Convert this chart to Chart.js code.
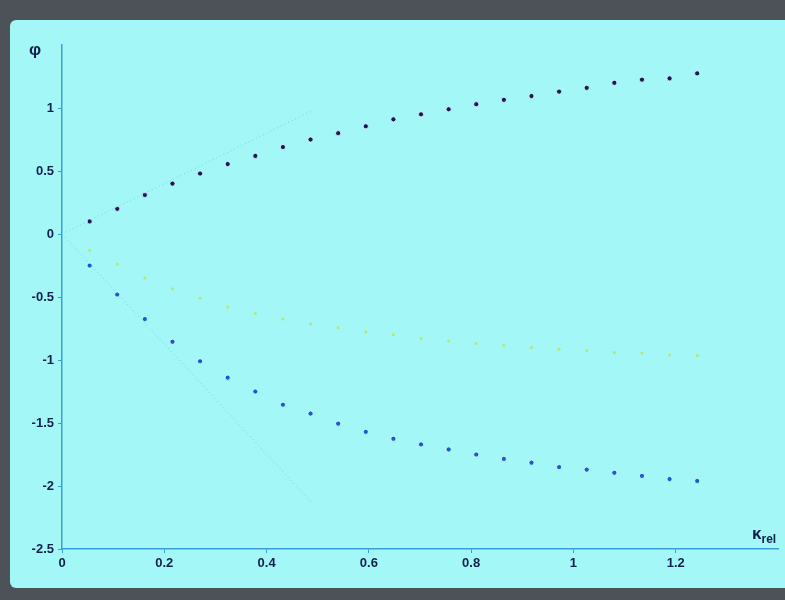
<!DOCTYPE html>
<html><head><meta charset="utf-8">
<script src="https://cdn.jsdelivr.net/npm/chart.js@4"></script>
<style>
html,body{margin:0;padding:0;}
body{width:785px;height:600px;background:#4d5258;position:relative;overflow:hidden;font-family:"Liberation Sans",Arial,sans-serif;}
#screen{position:absolute;left:10px;top:20px;width:775px;height:568px;background:#a3f7f7;border-radius:6px 0 0 6px;}
#wrap{position:absolute;left:0;top:0;width:775px;height:568px;}
.lbl{position:absolute;color:#14204a;font-weight:bold;}
</style></head><body>
<div id="screen">
  <div id="wrap"><canvas id="c"></canvas></div>
  <div class="lbl" style="left:19px;top:20px;font-size:17px;">φ</div>
  <div class="lbl" style="left:742px;top:504px;font-size:17px;">κ<sub style="font-size:12px;">rel</sub></div>
</div>
<script>
// ---- data ----
const kappa = [0.054, 0.108, 0.162, 0.216, 0.270, 0.324, 0.378, 0.432, 0.486, 0.540, 0.594, 0.648,
               0.702, 0.756, 0.810, 0.864, 0.918, 0.972, 1.026, 1.080, 1.134, 1.188, 1.242];
const phiBlack = [0.10, 0.20, 0.31, 0.40, 0.48, 0.555, 0.62, 0.69, 0.75, 0.80, 0.855, 0.91,
                  0.95, 0.99, 1.03, 1.065, 1.095, 1.13, 1.16, 1.20, 1.225, 1.235, 1.275];
const phiGreen = [-0.13, -0.24, -0.35, -0.435, -0.51, -0.58, -0.63, -0.675, -0.715, -0.745, -0.775, -0.80,
                  -0.83, -0.85, -0.87, -0.885, -0.90, -0.915, -0.925, -0.94, -0.945, -0.96, -0.965];
const phiBlue = [-0.25, -0.48, -0.675, -0.855, -1.01, -1.14, -1.25, -1.355, -1.425, -1.505, -1.57, -1.625,
                 -1.67, -1.71, -1.75, -1.785, -1.815, -1.85, -1.87, -1.895, -1.92, -1.945, -1.96];
const tangentX = [0, 0.49];
const tangentUp = [0, 0.98];
const tangentDown = [0, -2.14];
const xTickLabels = ['0', '0.2', '0.4', '0.6', '0.8', '1', '1.2'];
const yTickLabels = ['-2.5', '-2', '-1.5', '-1', '-0.5', '0', '0.5', '1'];
const xRange = [0, 1.4];
const yRange = [-2.5, 1.5];

// ---- build ----
const pts = (xs, ys) => xs.map((x, i) => ({x: x, y: ys[i]}));
const axisColor = '#3aa0d4';
const textColor = '#14204a';

const fmt = v => String(Number(v.toFixed(1)));

new Chart(document.getElementById('c'), {
  type: 'scatter',
  data: {
    datasets: [
      {type: 'line', data: pts(tangentX, tangentUp), borderColor: '#62dbe6', borderWidth: 1,
       borderDash: [1, 3], pointRadius: 0, fill: false},
      {type: 'line', data: pts(tangentX, tangentDown), borderColor: '#62dbe6', borderWidth: 1,
       borderDash: [1, 3], pointRadius: 0, fill: false},
      {data: pts(kappa, phiGreen), pointRadius: 1.5, pointBackgroundColor: '#b6e86c',
       pointBorderColor: '#b6e86c', pointBorderWidth: 0},
      {data: pts(kappa, phiBlue), pointRadius: 2.6, pointBackgroundColor: '#1060d0',
       pointBorderColor: 'rgba(225,255,255,0.85)', pointBorderWidth: 1},
      {data: pts(kappa, phiBlack), pointRadius: 2.6, pointBackgroundColor: '#1a1a58',
       pointBorderColor: 'rgba(225,255,255,0.85)', pointBorderWidth: 1}
    ]
  },
  options: {
    responsive: true,
    maintainAspectRatio: false,
    animation: false,
    layout: {padding: {left: 0, top: 25, right: 7, bottom: 0}},
    plugins: {legend: {display: false}, tooltip: {enabled: false}},
    scales: {
      x: {
        type: 'linear', min: xRange[0], max: xRange[1],
        afterFit: s => { s.height = 39; },
        border: {display: true, color: axisColor, width: 1.5},
        grid: {drawOnChartArea: false, drawTicks: true, tickLength: 4,
               color: c => (c.tick && c.tick.value > 1.3) ? 'rgba(0,0,0,0)' : axisColor},
        ticks: {stepSize: 0.2, padding: 3, maxRotation: 0, autoSkip: false, color: textColor,
                font: {family: '"Liberation Sans", Arial, sans-serif', size: 13, weight: 'bold'},
                callback: v => { const l = fmt(v); return xTickLabels.includes(l) ? l : ''; }}
      },
      y: {
        type: 'linear', min: yRange[0], max: yRange[1],
        afterFit: s => { s.width = 52; },
        border: {display: true, color: axisColor, width: 1.5},
        grid: {drawOnChartArea: false, drawTicks: true, tickLength: 4,
               color: c => (c.tick && c.tick.value > 1.2) ? 'rgba(0,0,0,0)' : axisColor},
        ticks: {stepSize: 0.5, padding: 4, color: textColor,
                font: {family: '"Liberation Sans", Arial, sans-serif', size: 13, weight: 'bold'},
                callback: v => { const l = fmt(v); return yTickLabels.includes(l) ? l : ''; }}
      }
    }
  }
});
</script>
</body></html>
